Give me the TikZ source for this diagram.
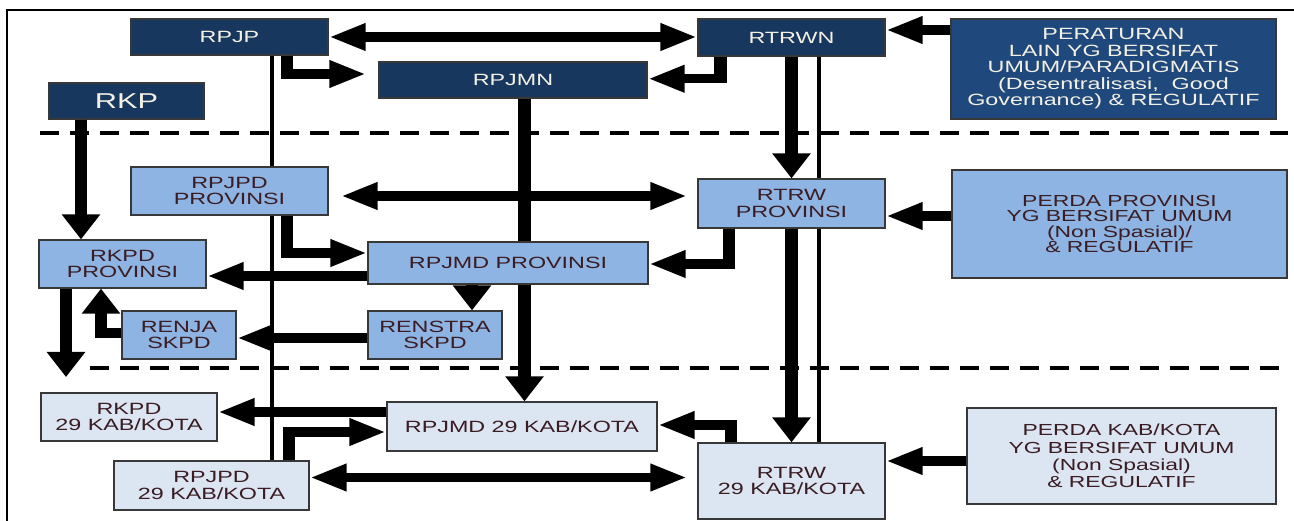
\documentclass[tikz,border=0pt]{standalone}
\usepackage{fontspec}
\setmainfont{Liberation Sans}[FakeStretch=1.43]
\usetikzlibrary{arrows.meta}
\definecolor{navy}{HTML}{17375E}
\definecolor{navyb}{HTML}{1F497D}
\definecolor{midblue}{HTML}{8DB4E2}
\definecolor{lightblue}{HTML}{DCE6F2}
\definecolor{bordercol}{HTML}{383838}
\definecolor{txtcol}{HTML}{3A1C22}
\definecolor{cream}{HTML}{F4F1E4}
\begin{document}
\begin{tikzpicture}[x=1pt,y=-1pt,
  box/.style={draw=bordercol, line width=1.3pt, inner sep=0pt, align=center,
    font=\fontsize{16.3}{16.7}\selectfont},
  dbox/.style={box, fill=navy, text=cream},
  pbox/.style={box, fill=navyb, text=cream, font=\fontsize{16.3}{16.5}\selectfont},
  mbox/.style={box, fill=midblue, text=txtcol},
  lbox/.style={box, fill=lightblue, text=txtcol},
  harrow/.style={line width=9.5pt, -{Triangle[length=37pt,width=25pt]}},
  hdouble/.style={line width=9.5pt, {Triangle[length=37pt,width=25pt]}-{Triangle[length=37pt,width=25pt]}},
  varrow/.style={line width=12.5pt, -{Triangle[length=25pt,width=37pt]}},
  vseg/.style={line width=12.5pt},
  hseg/.style={line width=9.5pt},
  thinline/.style={line width=4.5pt},
  sepline/.style={line width=3.5pt, dash pattern=on 19pt off 11pt}]
\useasboundingbox (0,0) rectangle (1294,521);
% frame
\draw[line width=1.8pt] (7,521) -- (7,10) -- (1294,10);
% separators
\draw[sepline] (40,133) -- (1288,133);
\draw[sepline] (90,368) -- (1288,368);

% top level
\node[dbox, minimum width=197pt, minimum height=36pt] (rpjp) at (229.5,37) {RPJP};
\node[dbox, minimum width=187pt, minimum height=37pt] (rtrwn) at (791.5,37.5) {RTRWN};
\node[dbox, minimum width=268pt, minimum height=36pt] (rpjmn) at (513,80) {RPJMN};
\node[dbox, minimum width=155pt, minimum height=36pt, font=\fontsize{21.5}{22}\selectfont] (rkp) at (126.5,101) {RKP};
\node[pbox, minimum width=325pt, minimum height=100pt] (perat) at (1113.5,69)
  {PERATURAN\\LAIN YG BERSIFAT\\UMUM/PARADIGMATIS\\(Desentralisasi,\ \ Good\\Governance) \& REGULATIF};

% province level
\node[mbox, minimum width=197pt, minimum height=48pt] (rpjpdp) at (229.5,191) {RPJPD\\PROVINSI};
\node[mbox, minimum width=187pt, minimum height=49pt] (rtrwp) at (791.5,203.5) {RTRW\\PROVINSI};
\node[mbox, minimum width=335pt, minimum height=108pt, font=\fontsize{16}{15.6}\selectfont] (perdap) at (1119.5,224)
  {PERDA PROVINSI\\YG BERSIFAT UMUM\\(Non Spasial)/\\\& REGULATIF};
\node[mbox, minimum width=167pt, minimum height=48pt] (rkpdp) at (122.5,264) {RKPD\\PROVINSI};
\node[mbox, minimum width=280pt, minimum height=42pt] (rpjmdp) at (508,263) {RPJMD PROVINSI};
\node[mbox, minimum width=114pt, minimum height=48pt] (renja) at (179,335) {RENJA\\SKPD};
\node[mbox, minimum width=134pt, minimum height=48pt] (renstra) at (435,335) {RENSTRA\\SKPD};

% kab/kota level
\node[lbox, minimum width=176pt, minimum height=48pt] (rkpd29) at (129,417) {RKPD\\29 KAB/KOTA};
\node[lbox, minimum width=270pt, minimum height=49pt] (rpjmd29) at (522,426.5) {RPJMD 29 KAB/KOTA};
\node[lbox, minimum width=195pt, minimum height=49pt] (rpjpd29) at (211.5,485.5) {RPJPD\\29 KAB/KOTA};
\node[lbox, minimum width=187pt, minimum height=76pt] (rtrw29) at (791.5,481) {RTRW\\29 KAB/KOTA};
\node[lbox, minimum width=309pt, minimum height=96pt, font=\fontsize{16}{17.4}\selectfont] (perdak) at (1121.5,456)
  {PERDA KAB/KOTA\\YG BERSIFAT UMUM\\(Non Spasial)\\\& REGULATIF};

% helper coordinates
\coordinate (y30) at (0,30);
\coordinate (y196) at (0,196);
\coordinate (y216) at (0,216);
\coordinate (y276) at (0,276);
\coordinate (y338) at (0,338);
\coordinate (y412) at (0,412);
\coordinate (y461) at (0,461);
\coordinate (y477) at (0,477.5);
\coordinate (x81) at (81,0);
\coordinate (x272) at (272,0);
\coordinate (x472) at (472,0);
\coordinate (x524) at (524.5,0);
\coordinate (x819) at (819,0);
\coordinate (out1) at (66,377);
\coordinate (c3v) at (287,78.75);   \coordinate (c3h) at (280.75,74);
\coordinate (c4v) at (720.5,83.5);  \coordinate (c4h) at (726.75,78.75);
\coordinate (c11v) at (287,257.75); \coordinate (c11h) at (280.75,253);
\coordinate (c13v) at (729,268.75); \coordinate (c13h) at (735.25,264);
\coordinate (c16h) at (94.75,333);  \coordinate (c16v) at (101,337.75);
\coordinate (c21v) at (289,427.25); \coordinate (c21h) at (282.75,432);
\coordinate (c23v) at (731,420.25); \coordinate (c23h) at (737.25,425);

% thin lines
\draw[thinline] (rpjp.south -| x272) -- (rpjpdp.north -| x272);
\draw[thinline] (rpjpdp.south -| x272) -- (rpjpd29.north -| x272);
\draw[thinline] (rtrwn.south -| x819) -- (rtrwp.north -| x819);
\draw[thinline] (rtrwp.south -| x819) -- (rtrw29.north -| x819);

% top connectors
\draw[hdouble] (rpjp.east) -- (rpjp.east -| rtrwn.west);
\draw[harrow] (perat.west |- y30) -- (rtrwn.east |- y30);
\draw[vseg] (rpjp.south -| c3v) -- (c3v);
\draw[harrow, shorten >=12pt] (c3h) -- (rpjmn.west |- c3h);
\draw[vseg] (rtrwn.south -| c4v) -- (c4v);
\draw[harrow] (c4h) -- (rpjmn.east |- c4h);
\draw[varrow] (rtrwn.south) -- (rtrwp.north);
\draw[varrow] (rkp.south -| x81) -- (rkpdp.north -| x81);
\draw[vseg] (rpjmn.south -| x524) -- (rpjmdp.north -| x524);

% province connectors
\draw[hdouble, shorten <=12pt, shorten >=10pt] (rpjpdp.east |- y196) -- (rtrwp.west |- y196);
\draw[vseg] (rpjpdp.south -| c11v) -- (c11v);
\draw[harrow] (c11h) -- (rpjmdp.west |- c11h);
\draw[harrow] (rpjmdp.west |- y276) -- (rkpdp.east |- y276);
\draw[vseg] (rtrwp.south -| c13v) -- (c13v);
\draw[harrow] (c13h) -- (rpjmdp.east |- c13h);
\draw[varrow] (rpjmdp.south -| x472) -- (renstra.north -| x472);
\draw[harrow] (renstra.west |- y338) -- (renja.east |- y338);
\draw[hseg] (renja.west |- c16h) -- (c16h);
\draw[varrow] (c16v) -- (rkpdp.south -| c16v);
\draw[varrow] (rkpdp.south -| out1) -- (out1);
\draw[harrow] (perdap.west |- y216) -- (rtrwp.east |- y216);
\draw[varrow] (rpjmdp.south -| x524) -- (rpjmd29.north -| x524);
\draw[varrow] (rtrwp.south) -- (rtrw29.north);

% kab/kota connectors
\draw[harrow] (rpjmd29.west |- y412) -- (rkpd29.east |- y412);
\draw[vseg] (rpjpd29.north -| c21v) -- (c21v);
\draw[harrow] (c21h) -- (rpjmd29.west |- c21h);
\draw[hdouble, shorten >=10pt] (rpjpd29.east |- y477) -- (rtrw29.west |- y477);
\draw[vseg] (rtrw29.north -| c23v) -- (c23v);
\draw[harrow] (c23h) -- (rpjmd29.east |- c23h);
\draw[harrow] (perdak.west |- y461) -- (rtrw29.east |- y461);
\end{tikzpicture}
\end{document}
